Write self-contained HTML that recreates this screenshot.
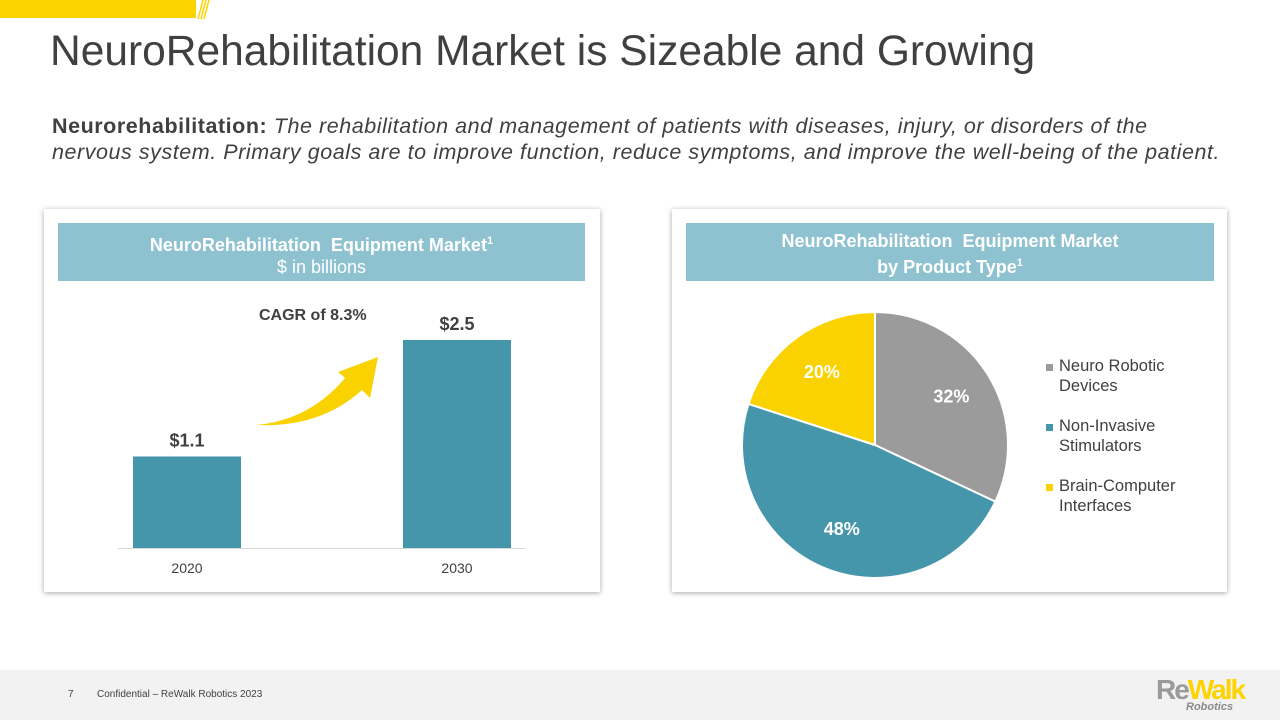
<!DOCTYPE html>
<html><head><meta charset="utf-8"><style>
body{margin:0;width:1280px;height:720px;position:relative;background:#fff;font-family:"Liberation Sans",sans-serif;overflow:hidden}
.abs{position:absolute}
.panel{position:absolute;background:#fff;box-shadow:0 1px 5px rgba(0,0,0,.35)}
.hdr{position:absolute;background:#8fc2d0;color:#fff;text-align:center;font-size:18px;line-height:22px}
</style></head><body>
<div class="abs" style="left:0;top:0;width:196px;height:18px;background:#fdd400"></div>
<svg class="abs" style="left:190px;top:0" width="24" height="20"><g stroke="#fdd400" stroke-width="1.5"><line x1="8" y1="19" x2="13" y2="0"/><line x1="11" y1="19" x2="16" y2="0"/><line x1="14" y1="19" x2="19" y2="0"/></g></svg>
<div class="abs" style="left:50px;top:28px;font-size:42.5px;color:#404040;white-space:nowrap">NeuroRehabilitation Market is Sizeable and Growing</div>
<div class="abs" style="left:52px;top:113px;width:1220px;font-size:21.5px;line-height:26px;color:#404040;white-space:nowrap;letter-spacing:0.55px"><b>Neurorehabilitation:</b> <i>The rehabilitation and management of patients with diseases, injury, or disorders of the<br>nervous system. Primary goals are to improve function, reduce symptoms, and improve the well-being of the patient.</i></div>

<div class="panel" style="left:44px;top:209px;width:556px;height:383px"></div>
<div class="hdr" style="left:58px;top:223px;width:527px;height:58px;padding-top:7px;box-sizing:border-box"><b>NeuroRehabilitation&nbsp; Equipment Market<sup style="font-size:11px">1</sup></b><br>$ in billions</div>
<svg class="abs" id="bar" style="left:0;top:0" width="640" height="600"></svg>

<div class="panel" style="left:672px;top:209px;width:555px;height:383px"></div>
<div class="hdr" style="left:686px;top:223px;width:528px;height:58px;padding-top:7px;box-sizing:border-box;font-weight:bold">NeuroRehabilitation&nbsp; Equipment Market<br>by Product Type<sup style="font-size:11px">1</sup></div>
<svg class="abs" id="pie" style="left:0;top:0" width="1280" height="600"></svg>

<div class="abs" style="left:0;top:670px;width:1280px;height:50px;background:#f2f2f2"></div>
<div class="abs" style="left:68px;top:689px;font-size:10px;color:#404040">7</div>
<div class="abs" style="left:97px;top:689px;font-size:10px;color:#404040">Confidential – ReWalk Robotics 2023</div>
<div class="abs" style="left:1156px;top:676px;font-size:28px;font-weight:bold;letter-spacing:-2px;line-height:28px"><span style="color:#9a9a9a">Re</span><span style="color:#fdd400">Walk</span></div>
<div class="abs" style="left:1186px;top:701px;font-size:11px;font-style:italic;font-weight:bold;color:#8a8a8a">Robotics</div>

<script>
const years=["2020","2030"];
const values=[1.1,2.5];
const valueLabels=["$1.1","$2.5"];
const pieLabels=["Neuro Robotic Devices","Non-Invasive Stimulators","Brain-Computer Interfaces"];
const pieValues=[32,48,20];
const pieColors=["#9b9b9b","#4696ab","#fad200"];
const NS="http://www.w3.org/2000/svg";
function mk(p,t,a){const e=document.createElementNS(NS,t);for(const k in a)e.setAttribute(k,a[k]);p.appendChild(e);return e;}
const bar=document.getElementById('bar');
const base=548,ppu=83.2;
const y=v=>base-v*ppu;
const xc=i=>187+i*270;
years.forEach((yr,i)=>{
 const r=mk(bar,'rect',{x:xc(i)-54,y:y(values[i]),width:108,height:base-y(values[i]),fill:'#4696ab'});
 
 
 const t=mk(bar,'text',{x:xc(i),y:y(values[i])-10,'text-anchor':'middle','font-size':18,'font-weight':'bold',fill:'#404040'});t.textContent=valueLabels[i];
 
 
 const c=mk(bar,'text',{x:xc(i),y:573,'text-anchor':'middle','font-size':14,fill:'#404040'});c.textContent=yr;
 
 
});
const ax=mk(bar,'line',{x1:118,x2:525,y1:base+0.5,y2:base+0.5,stroke:'#d9d9d9'});


const cg=mk(bar,'text',{x:259,y:320,'font-size':16,'font-weight':'bold',fill:'#404040'});cg.textContent="CAGR of 8.3%";


const ar=mk(bar,'path',{d:'M256,425 Q310,420 345,378 L338,372 L378,357 L370,398 L362,390 Q320,428 256,425 Z',fill:'#fad200'});



const pie=document.getElementById('pie');
const cx=875,cy=445,R=133;
const tot=pieValues.reduce((a,b)=>a+b,0);
let a0=-Math.PI/2;
pieValues.forEach((v,i)=>{
 const a1=a0+v/tot*2*Math.PI;
 const large=(a1-a0)>Math.PI?1:0;
 const p=mk(pie,'path',{d:`M${cx},${cy} L${cx+R*Math.cos(a0)},${cy+R*Math.sin(a0)} A${R},${R} 0 ${large} 1 ${cx+R*Math.cos(a1)},${cy+R*Math.sin(a1)} Z`,fill:pieColors[i],stroke:'#fff','stroke-width':2});
 
 
 const am=(a0+a1)/2;
 const t=mk(pie,'text',{x:cx+R*0.68*Math.cos(am),y:cy+R*0.68*Math.sin(am)+6,'text-anchor':'middle','font-size':18,'font-weight':'bold',fill:'#fff'});t.textContent=v+'%';
 
 
 const words=pieLabels[i].split(' ');
 const l1=words.length>2?words.slice(0,2).join(' '):words[0];
 const l2=words.length>2?words.slice(2).join(' '):words.slice(1).join(' ');
 const ly=371+i*60;
 const sq=mk(pie,'rect',{x:1046,y:ly-7,width:7,height:7,fill:pieColors[i]});
 
 
 const lt=mk(pie,'text',{x:1059,y:ly,'font-size':16.5,fill:'#404040'});
 mk(lt,'tspan',{x:1059,y:ly}).textContent=l1;
 mk(lt,'tspan',{x:1059,y:ly+20}).textContent=l2;
 
 
 a0=a1;
});
</script>
</body></html>
